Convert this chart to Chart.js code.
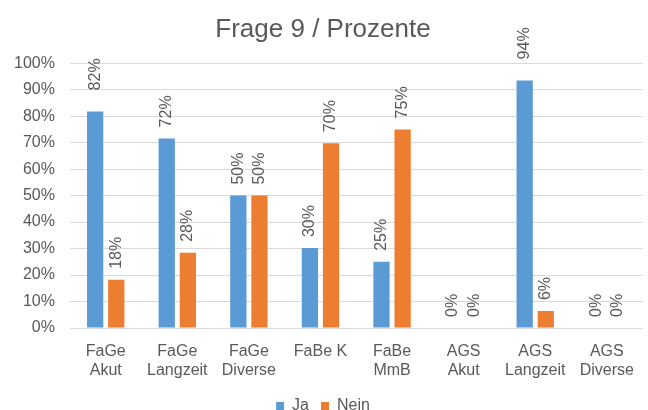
<!DOCTYPE html>
<html>
<head>
<meta charset="utf-8">
<script src="https://cdn.jsdelivr.net/npm/chart.js@4/dist/chart.umd.min.js"></script>
<style>
  html, body { margin: 0; padding: 0; background: #fff; }
  #wrap { width: 648px; height: 410px; }
</style>
</head>
<body>
<div id="wrap"><canvas id="myChart"></canvas></div>
<script>
// categories and values
const categories = [
    ['FaGe', 'Akut'], ['FaGe', 'Langzeit'], ['FaGe', 'Diverse'], 'FaBe K',
    ['FaBe', 'MmB'], ['AGS', 'Akut'], ['AGS', 'Langzeit'], ['AGS', 'Diverse']
];
const jaValues = [81.8, 71.6, 50, 30.2, 25, 0, 93.5, 0];
const neinValues = [18.2, 28.4, 50, 69.8, 75, 0, 6.4, 0];
const yTicks = [0, 10, 20, 30, 40, 50, 60, 70, 80, 90, 100];

const grey = '#595959';
const fontFamily = '"Liberation Sans", Arial, sans-serif';

Chart.defaults.font.family = fontFamily;
Chart.defaults.color = grey;

// draws the rotated percent labels above each bar
const barLabels = {
    id: 'barLabels',
    afterDatasetsDraw(chart) {
        const ctx = chart.ctx;
        ctx.save();
        ctx.font = '16px ' + fontFamily;
        ctx.fillStyle = grey;
        ctx.textAlign = 'left';
        ctx.textBaseline = 'middle';
        chart.data.datasets.forEach((ds, i) => {
            chart.getDatasetMeta(i).data.forEach((bar, j) => {
                const v = ds.data[j];
                // the tallest bars have their labels pushed a bit higher
                const gap = v > 80 ? 21 : 11;
                ctx.save();
                ctx.translate(bar.x, bar.y - gap);
                ctx.rotate(-Math.PI / 2);
                ctx.fillText(Math.round(v) + '%', 0, 0);
                ctx.restore();
            });
        });
        ctx.restore();
    }
};

const data = {
    labels: categories,
    datasets: [
        { label: 'Ja', data: jaValues, backgroundColor: '#5b9bd5' },
        { label: 'Nein', data: neinValues, backgroundColor: '#ed7d31' }
    ]
};

const config = {
    type: 'bar',
    data: data,
    plugins: [barLabels],
    options: {
        responsive: true,
        maintainAspectRatio: false,
        animation: false,
        categoryPercentage: 0.59,
        barPercentage: 0.77,
        layout: { padding: { left: -1, right: 1, top: 0, bottom: -14 } },
        plugins: {
            title: {
                display: true,
                text: 'Frage 9 / Prozente',
                color: grey,
                font: { size: 26, weight: 'normal' },
                padding: { top: 14, bottom: 18 }
            },
            legend: {
                position: 'bottom',
                labels: {
                    boxWidth: 8,
                    boxHeight: 8,
                    padding: 12,
                    color: grey,
                    font: { size: 16 }
                }
            },
            tooltip: { enabled: false }
        },
        scales: {
            x: {
                grid: { display: false, drawTicks: false },
                border: { display: false },
                ticks: {
                    color: grey,
                    font: { size: 16, lineHeight: 1.2 },
                    padding: 14,
                    maxRotation: 0,
                    autoSkip: false
                },
                afterFit: (scale) => { scale.height = 58; }
            },
            y: {
                min: 0,
                max: 100,
                afterBuildTicks: (scale) => { scale.ticks = yTicks.map(v => ({ value: v })); },
                grid: { color: '#d9d9d9', lineWidth: 1, drawTicks: false },
                border: { display: false },
                ticks: {
                    color: grey,
                    font: { size: 16 },
                    padding: 15,
                    callback: (v) => v + '%'
                }
            }
        }
    }
};

const myChart = new Chart(document.getElementById('myChart'), config);
</script>
</body>
</html>
